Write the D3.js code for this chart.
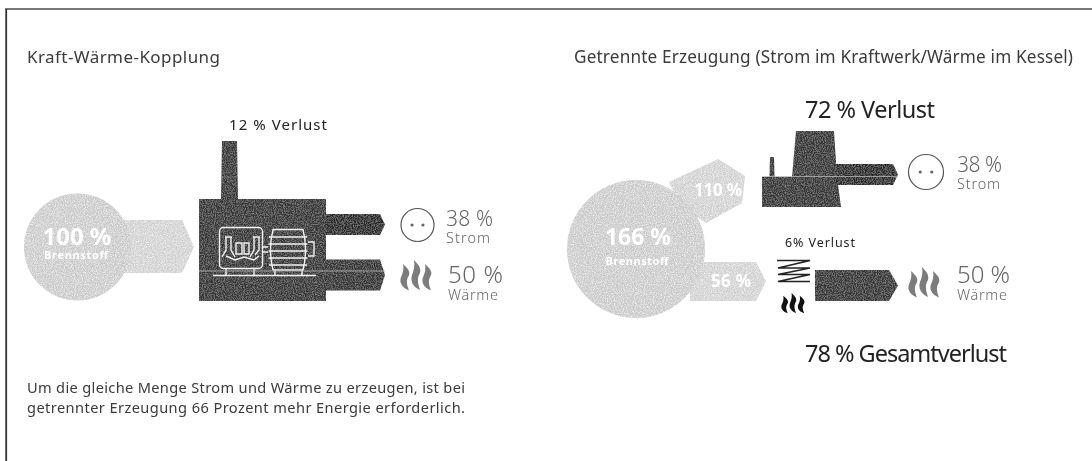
<!DOCTYPE html>
<html><head><meta charset="utf-8">
<script src="https://cdn.jsdelivr.net/npm/d3@7/dist/d3.min.js"></script>
<style>html,body{margin:0;background:#fff}svg{display:block}text{font-family:"Noto Sans",sans-serif}</style>
</head><body><svg id="c" width="1092" height="461"></svg>
<script>
// data
const fuelValues = [100, 166];
const branchValues = [110, 56];
const outputLabels = ["Strom", "Wärme"];
const outputValues = [38, 50];
const lossValues = [12, 72, 6, 78];
const panelTitles = ["Kraft-Wärme-Kopplung", "Getrennte Erzeugung (Strom im Kraftwerk/Wärme im Kessel)"];
const fuelLabel = "Brennstoff";
const noteLines = ["Um die gleiche Menge Strom und Wärme zu erzeugen, ist bei", "getrennter Erzeugung 66 Prozent mehr Energie erforderlich."];

const r = d3.scaleSqrt().domain([0, 166]).range([0, 69]);
const thick = d3.scaleLinear().domain([38, 50, 56, 100]).range([21, 31, 39, 53]);
const svg = d3.select("#c");
const defs = svg.append("defs");
const LIGHT = "#c9c9c9", DARK = "#343434", TXT = "#3a3a3a", GREY = "#666";

// scan grain
function grain(id, a, b) {
  const f = defs.append("filter").attr("id",id).attr("x",0).attr("y",0).attr("width","100%").attr("height","100%");
  f.append("feTurbulence").attr("type","fractalNoise").attr("baseFrequency",0.9).attr("numOctaves",2).attr("seed",4).attr("result","n");
  f.append("feColorMatrix").attr("in","n").attr("type","matrix").attr("values",`0 0 0 0 1  0 0 0 0 1  0 0 0 0 1  ${a} 0 0 0 ${b}`).attr("result","w");
  f.append("feComposite").attr("in","w").attr("in2","SourceAlpha").attr("operator","in").attr("result","wc");
  f.append("feMerge").call(m=>{m.append("feMergeNode").attr("in","SourceGraphic");m.append("feMergeNode").attr("in","wc");});
}
grain("grainL", 1.6, -0.62);
grain("grainD", 0.5, -0.2);
defs.append("filter").attr("id","soft").append("feGaussianBlur").attr("stdDeviation",0.3);

// frame
svg.append("path").attr("d","M6 461V9H1092").attr("fill","none").attr("stroke","#777").attr("stroke-width",2);
svg.append("path").attr("d","M6.500 461V9").attr("fill","none").attr("stroke","#333").attr("stroke-width",1.2);

const light = svg.append("g").attr("filter","url(#grainL)");
const dark = svg.append("g").attr("filter","url(#grainD)");
const icons = svg.append("g");
const labels = svg.append("g").attr("filter","url(#soft)");

function arrow(x0, x1, cy, h, n) {
  return d3.line()([[x0,cy-h/2],[x1-n,cy-h/2],[x1,cy],[x1-n,cy+h/2],[x0,cy+h/2]]) + "Z";
}
function text(x, y, s, size, fill, o={}) {
  const t = labels.append("text").attr("x",x).attr("y",y).attr("font-size",size).attr("fill",fill)
    .attr("font-weight",o.w||400).attr("text-anchor",o.a||"start").text(s);
  if (o.len) t.attr("textLength",o.len).attr("lengthAdjust","spacing");
  return t;
}
function socket(cx, cy, rad) {
  icons.append("circle").attr("cx",cx).attr("cy",cy).attr("r",rad).attr("fill","#fff").attr("stroke","#555").attr("stroke-width",1.2);
  [-1,1].forEach(s=>icons.append("circle").attr("cx",cx+s*rad*0.33).attr("cy",cy).attr("r",1.6).attr("fill","#666"));
}
function flames(x, y, sx, sy, fill) {
  [0,1,2].forEach(i=>icons.append("path")
    .attr("transform",`translate(${x+i*11*sx},${y+(i===1?0:4*sy)}) scale(${sx},${sy*(i===1?1:0.88)})`)
    .attr("d","M3 0C9 6 11 10 8 15C6 19 7 24 9 30C2 27 -1 21 1 15C3 10 4 5 3 0Z").attr("fill",fill));
}

// --- left panel
text(27, 63, panelTitles[0], 17, TXT, {len:193});
light.append("path").attr("d",arrow(110,194,246.5,thick(fuelValues[0]),12)).attr("fill","#d0d0d0");
light.append("circle").attr("cx",77.5).attr("cy",247).attr("r",r(fuelValues[0])).attr("fill",LIGHT);
text(77, 245, fuelValues[0]+" %", 24, "#fff", {a:"middle",w:700,len:69});
text(76, 259, fuelLabel, 11, "#fff", {a:"middle",w:700,len:64});

dark.append("path").attr("d","M222 141H237L238 199H221Z").attr("fill",DARK);
dark.append("rect").attr("x",199).attr("y",199).attr("width",127).attr("height",102).attr("fill",DARK);
dark.append("path").attr("d",arrow(326,385,224.5,thick(outputValues[0]),5)).attr("fill","#262626");
dark.append("path").attr("d",arrow(326,385,275,thick(outputValues[1]),5)).attr("fill","#333");

// machine icon
const ic = icons.append("g").attr("fill","none").attr("stroke","#f2f2f2").attr("stroke-width",1.4);
ic.append("rect").attr("x",219.5).attr("y",227.5).attr("width",43).attr("height",41).attr("rx",4);
ic.append("path").attr("d","M213 275.5H316M226 269v6M254 269v6M275 270v6M302 270v6M262 247h6M262 252h6");
ic.append("path").attr("d","M273 229.500h30q5 20 0 40.500h-30q-5 -20 0 -40.500ZM269 237h38M268.500 244h39M268.500 251h39M268.500 258h39M269 265h38M308 242h6v14h-6");
ic.append("path").attr("d","M226 237v13l-4 7M231 237v13l4 7M236 243v11h6v-11ZM244 243v11h5v-11ZM254 237v13l-4 7M259 237v13l-4 5M225 237h7M253 237h7M226 256l9 4 9 -3 10 3 5 -4");
icons.append("path").attr("d","M199 271H385").attr("stroke","#b5b5b5").attr("stroke-width",0.8);
icons.append("path").attr("d","M222 177H237").attr("stroke","#8a8a8a").attr("stroke-width",0.7);

socket(417.5,225,16.5);
flames(400,260,1,1,"#7c7c7c");
text(446, 226, outputValues[0]+" %", 21, GREY, {w:300,len:47});
text(446, 243, outputLabels[0], 14.5, GREY, {w:300,len:44});
text(448, 283, outputValues[1]+" %", 24, GREY, {w:300,len:55});
text(448, 300, outputLabels[1], 14.5, GREY, {w:300,len:50});
text(278, 130, lossValues[0]+" % Verlust", 15, "#222", {a:"middle",len:98});

// note
noteLines.forEach((l,i)=>text(27, 393+i*20, l, 14.6, TXT, {len:438}));

// --- right panel
text(574, 63, panelTitles[1], 17.2, TXT, {len:499});
text(870, 118, lossValues[1]+" % Verlust", 23.5, "#222", {a:"middle",len:130});
light.append("path").attr("d","M669 182L718 159L745 176L742 203L706 223L680 205Z").attr("fill","#d0d0d0");
light.append("path").attr("d",arrow(690,766,281.5,thick(branchValues[1]),10)).attr("fill","#d0d0d0");
light.append("circle").attr("cx",636).attr("cy",249).attr("r",r(fuelValues[1])).attr("fill",LIGHT);
text(638, 245, fuelValues[1]+" %", 23, "#fff", {a:"middle",w:700,len:66});
text(637, 265, fuelLabel, 11, "#fff", {a:"middle",w:700,len:63});
text(718, 196, branchValues[0]+" %", 17, "#fff", {a:"middle",w:700,len:48});
text(731, 287, branchValues[1]+" %", 17, "#fff", {a:"middle",w:700,len:40});

dark.append("path").attr("d","M796 131H834L837 177L841 207H762V177H792Z").attr("fill",DARK);
dark.append("path").attr("d","M770 157H774L774.500 177H769.500Z").attr("fill",DARK);
dark.append("path").attr("d",arrow(836,898,174.5,thick(outputValues[0]),5)).attr("fill","#262626");
icons.append("path").attr("d","M762 176.500H898").attr("stroke","#b5b5b5").attr("stroke-width",0.8);
socket(926,172,17.5);
text(957, 172, outputValues[0]+" %", 21, GREY, {w:300,len:45});
text(957, 189, outputLabels[0], 14.5, GREY, {w:300,len:43});

text(820, 247, lossValues[2]+"% Verlust", 12.5, "#222", {a:"middle",len:70});
icons.append("path").attr("fill","none").attr("stroke","#222").attr("stroke-width",1.7)
  .attr("d","M777 260.500H810L778 268H810L778 274.500H810L778 281.500H810");
flames(781,293,0.75,0.67,"#111");
dark.append("path").attr("d",arrow(815,898,285.5,thick(outputValues[1]),9)).attr("fill",DARK);
flames(908,267,1,1,"#7c7c7c");
text(957, 283, outputValues[1]+" %", 24, GREY, {w:300,len:53});
text(957, 300, outputLabels[1], 14.5, GREY, {w:300,len:50});
text(906, 362, lossValues[3]+" % Gesamtverlust", 23.5, "#222", {a:"middle",len:202});
</script></body></html>
